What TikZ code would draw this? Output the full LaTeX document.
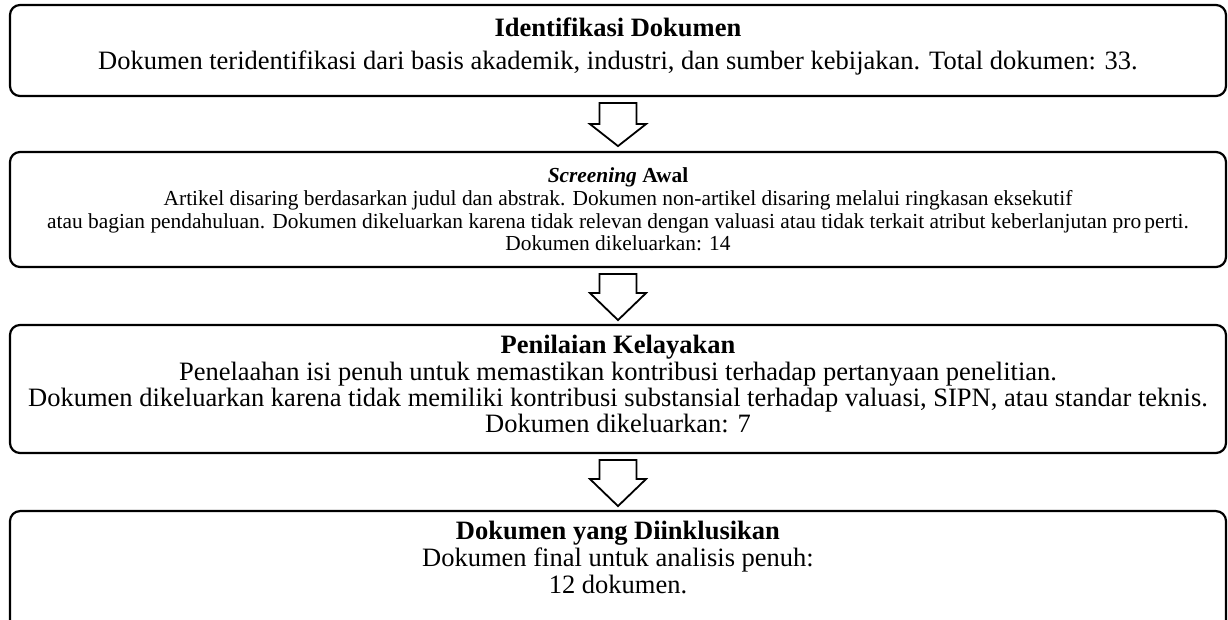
\documentclass[tikz,border=0pt]{standalone}
\usepackage{fontspec}
\setmainfont{Liberation Serif}

\tikzset{
  stagebox/.style={draw, line width=1.1pt, rounded corners=5pt, minimum width=608pt, align=center, inner sep=0pt},
  bigtext/.style={font=\fontsize{13.25pt}{13pt}\selectfont},
  smalltext/.style={font=\fontsize{10.7pt}{11.4pt}\selectfont},
  blockarrow/.style={draw, line width=0.9pt, fill=white, line join=miter},
}

\begin{document}
\begin{tikzpicture}[x=0.5pt, y=-0.5pt]
\useasboundingbox (0,0) rectangle (1228,620);
\clip (0,0) rectangle (1228,620);
% the four stages
\node[stagebox, bigtext, minimum height=45.5pt] (ident) at (618,50.5)
  {\textbf{Identifikasi Dokumen}\\[3.5pt]
   Dokumen teridentifikasi dari basis akademik, industri, dan sumber kebijakan. Total dokumen: 33.\rule[-7pt]{0pt}{0pt}};
\node[stagebox, smalltext, minimum height=57.5pt] (screen) at (618,209.5)
  {\textbf{\textit{Screening} Awal}\\
   Artikel disaring berdasarkan judul dan abstrak. Dokumen non-artikel disaring melalui ringkasan eksekutif\\
   atau bagian pendahuluan. Dokumen dikeluarkan karena tidak relevan dengan valuasi atau tidak terkait atribut keberlanjutan pro\hspace{0.15em}perti.\\
   Dokumen dikeluarkan: 14};
\node[stagebox, bigtext, minimum height=64pt] (elig) at (618,389)
  {\textbf{Penilaian Kelayakan}\\[0.6pt]
   Penelaahan isi penuh untuk memastikan kontribusi terhadap pertanyaan penelitian.\\
   Dokumen dikeluarkan karena tidak memiliki kontribusi substansial terhadap valuasi, SIPN, atau standar teknis.\\
   Dokumen dikeluarkan: 7\rule[-5.5pt]{0pt}{0pt}};
\node[stagebox, bigtext, anchor=north, inner ysep=5pt] (incl) at (618,510)
  {\textbf{Dokumen yang Diinklusikan}\\[0.5pt]
   Dokumen final untuk analisis penuh:\\[0.5pt]
   12 dokumen.\rule[-20pt]{0pt}{0pt}};
% block arrows between them
\draw[blockarrow] ([yshift=-3pt]ident.south) ++(-18.5,0) -- ++(37,0) -- ++(0,21) -- ++(9.5,0)
  -- ++(-28,22) -- ++(-28,-22) -- ++(9.5,0) -- cycle;
\draw[blockarrow] ([yshift=-3pt]screen.south) ++(-18.5,0) -- ++(37,0) -- ++(0,19) -- ++(9.5,0)
  -- ++(-28,27) -- ++(-28,-27) -- ++(9.5,0) -- cycle;
\draw[blockarrow] ([yshift=-3pt]elig.south) ++(-18.5,0) -- ++(37,0) -- ++(0,19) -- ++(9.5,0)
  -- ++(-28,27) -- ++(-28,-27) -- ++(9.5,0) -- cycle;
\end{tikzpicture}
\end{document}
